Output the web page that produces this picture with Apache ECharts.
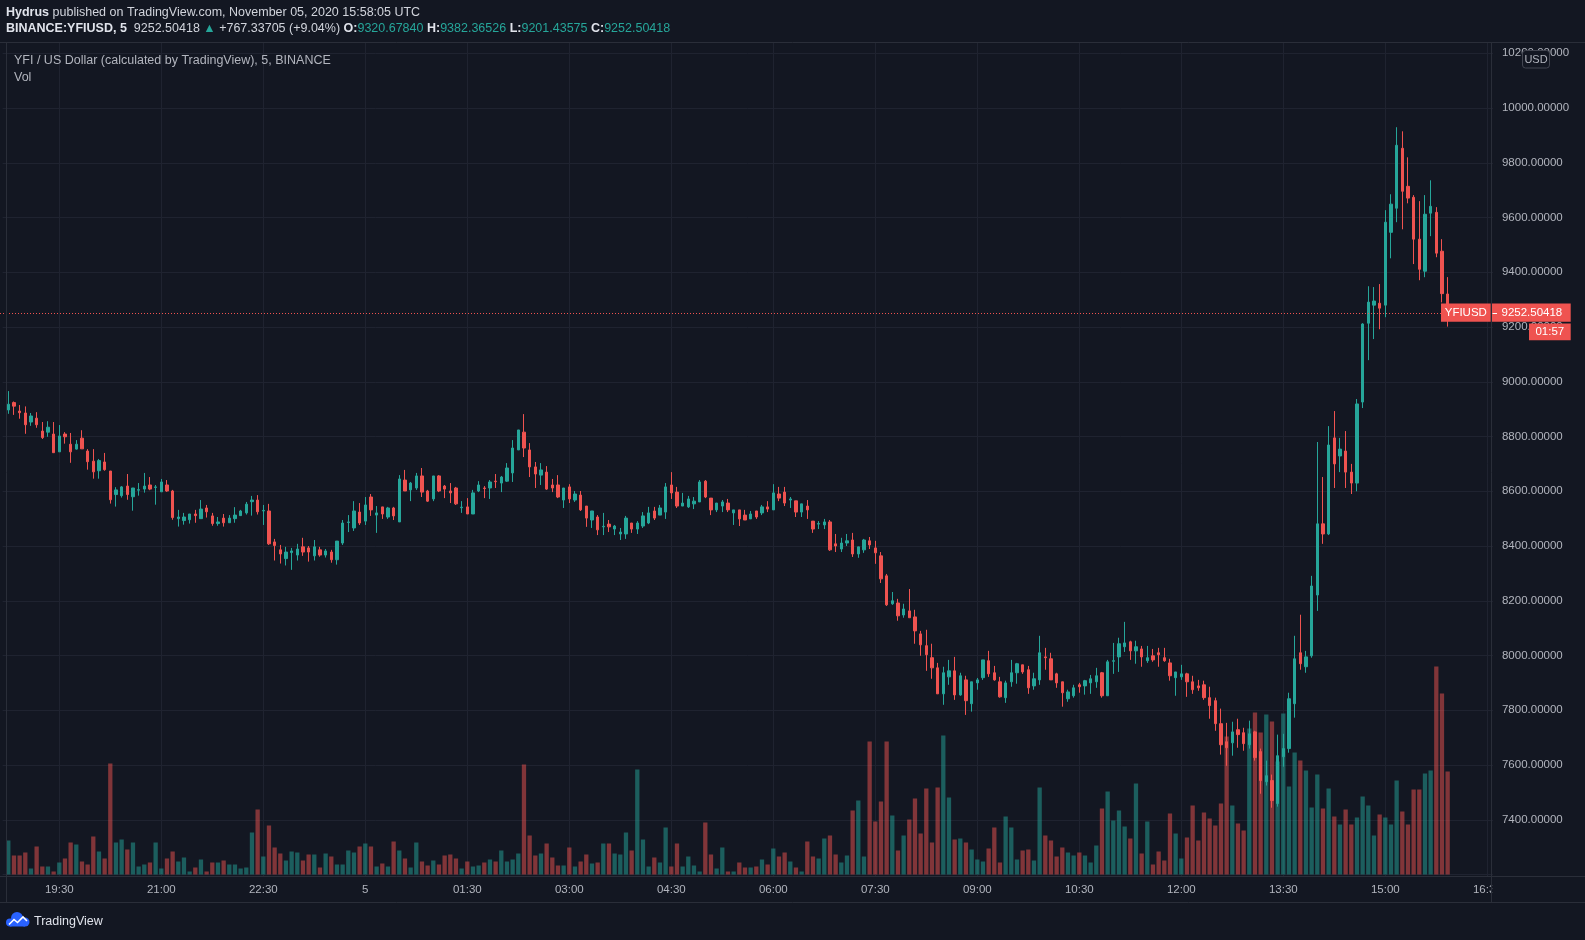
<!DOCTYPE html>
<html><head><meta charset="utf-8">
<script src="https://cdn.jsdelivr.net/npm/echarts@6/dist/echarts.min.js"></script>
<style>html,body{margin:0;padding:0;background:#131722;overflow:hidden}#c{width:1585px;height:940px;}</style>
</head><body><div id="c"></div>
<script>
// ---- data (5-minute candles, BINANCE:YFIUSD, Nov 4 18:45 -> Nov 5 15:55 UTC) ----
const openV = [8897,8924,8893,8886,8853,8867,8820,8816,8809,8744,
8809,8772,8754,8794,8747,8710,8675,8707,8674,8588,
8584,8619,8580,8604,8608,8623,8614,8598,8623,8601,
8500,8493,8496,8517,8500,8539,8510,8482,8502,8485,
8500,8511,8521,8562,8568,8528,8528,8415,8386,8354,
8376,8367,8397,8393,8364,8386,8367,8378,8350,8411,
8486,8466,8524,8491,8579,8513,8543,8506,8539,8488,
8641,8605,8612,8656,8601,8572,8656,8619,8601,8612,
8540,8543,8517,8601,8612,8612,8637,8630,8637,8667,
8751,8816,8751,8689,8659,8670,8623,8623,8568,8616,
8568,8586,8546,8495,8506,8470,8480,8462,8444,8444,
8484,8462,8473,8484,8528,8513,8524,8623,8597,8546,
8543,8554,8561,8637,8575,8532,8546,8557,8521,8532,
8513,8499,8528,8521,8543,8532,8590,8597,8568,8565,
8524,8546,8491,8480,8477,8488,8408,8389,8411,8422,
8371,8386,8419,8393,8364,8291,8189,8192,8148,8163,
8141,8079,8036,7992,7955,7860,7922,7944,7856,7911,
7824,7900,7919,7981,7937,7904,7846,7904,7937,7966,
7948,7889,7911,7995,7988,7933,7904,7842,7853,7893,
7889,7900,7904,7937,7853,7979,7995,8032,8050,8017,
8024,7981,7999,8010,7992,7973,7919,7922,7933,7904,
7889,7893,7846,7835,7751,7685,7681,7729,7718,7674,
7721,7649,7539,7543,7459,7630,7660,7824,8010,7959,
7999,8221,8481,8444,8795,8729,8747,8670,8630,8926,
9214,9280,9287,9280,9546,9634,9853,9714,9674,9521,
9404,9616,9619,9477,9320.67840];
const highV = [8966,8928,8915,8910,8886,8889,8853,8856,8853,8842,
8816,8813,8787,8823,8754,8754,8718,8740,8674,8615,
8619,8663,8612,8630,8667,8652,8623,8645,8641,8605,
8532,8521,8517,8532,8568,8550,8521,8506,8517,8513,
8542,8532,8561,8583,8586,8550,8554,8426,8404,8397,
8393,8408,8430,8400,8422,8397,8389,8386,8418,8495,
8513,8564,8557,8579,8590,8546,8543,8543,8543,8659,
8678,8634,8667,8685,8605,8656,8659,8623,8630,8616,
8564,8575,8605,8637,8619,8641,8663,8656,8703,8787,
8824,8882,8776,8707,8703,8692,8645,8659,8612,8626,
8601,8601,8546,8528,8513,8521,8495,8477,8466,8510,
8484,8491,8524,8543,8543,8550,8630,8670,8616,8594,
8583,8579,8641,8641,8575,8557,8568,8572,8532,8532,
8532,8528,8528,8550,8564,8626,8616,8616,8579,8565,
8554,8568,8491,8491,8499,8495,8444,8430,8444,8448,
8397,8426,8433,8419,8378,8298,8232,8207,8189,8243,
8167,8090,8094,8043,7973,7959,7984,7995,7937,7926,
7904,7918,7984,8017,7962,7922,7908,7984,7973,7966,
7962,7937,8072,8028,8010,7937,7904,7875,7893,7900,
7911,7929,7955,7940,7984,8046,8065,8123,8054,8054,
8035,8035,8024,8028,8028,7988,7940,7966,7937,7926,
7911,7908,7886,7846,7806,7754,7758,7769,7736,7762,
7725,7660,7616,7565,7711,7714,7864,8072,8149,8017,
8291,8780,8652,8838,8893,8795,8820,8700,8937,9214,
9349,9346,9357,9627,9685,9930,9915,9820,9682,9660,
9682,9736,9638,9521,9382.36526];
const lowV = [8883,8879,8865,8810,8839,8832,8791,8799,8741,8744,
8774,8704,8752,8755,8679,8646,8646,8675,8555,8544,
8577,8569,8529,8584,8595,8604,8551,8598,8598,8496,
8471,8478,8482,8485,8500,8504,8474,8474,8471,8485,
8485,8511,8515,8511,8515,8477,8404,8347,8336,8329,
8313,8347,8364,8343,8347,8361,8358,8339,8332,8404,
8451,8455,8477,8477,8510,8448,8499,8499,8495,8488,
8601,8564,8605,8579,8561,8564,8597,8575,8557,8550,
8521,8517,8517,8597,8575,8572,8612,8597,8634,8634,
8751,8725,8652,8612,8623,8605,8597,8575,8539,8557,
8561,8528,8470,8466,8440,8440,8451,8440,8422,8426,
8448,8444,8466,8480,8495,8513,8499,8572,8539,8546,
8539,8535,8561,8575,8513,8524,8524,8524,8477,8473,
8495,8499,8499,8513,8524,8532,8564,8546,8539,8506,
8506,8499,8448,8462,8462,8382,8378,8378,8400,8360,
8357,8375,8389,8335,8265,8181,8185,8127,8138,8138,
8043,7999,7944,7915,7860,7820,7893,7838,7853,7783,
7795,7875,7911,7922,7908,7846,7827,7886,7897,7933,
7860,7875,7893,7948,7911,7882,7813,7831,7846,7864,
7857,7860,7882,7846,7853,7933,7940,8013,7984,7970,
7959,7973,7977,7959,7977,7908,7853,7911,7849,7860,
7871,7838,7769,7725,7638,7597,7634,7663,7652,7660,
7616,7495,7525,7444,7448,7594,7645,7773,7948,7937,
7992,8163,8408,8440,8612,8670,8612,8590,8600,8904,
9079,9156,9192,9236,9451,9583,9557,9652,9430,9371,
9382,9532,9455,9290,9201.43575];
const closeV = [8918,8911,8887,8843,8875,8843,8796,8834,8741,8802,
8799,8744,8772,8755,8708,8671,8712,8679,8569,8605,
8616,8588,8612,8606,8619,8608,8616,8634,8601,8504,
8506,8506,8517,8511,8535,8525,8482,8488,8485,8502,
8513,8528,8553,8568,8525,8530,8408,8402,8371,8378,
8382,8389,8378,8378,8397,8367,8382,8350,8418,8484,
8488,8528,8484,8550,8532,8521,8517,8539,8510,8645,
8601,8630,8656,8597,8564,8656,8601,8608,8594,8554,
8542,8517,8594,8623,8610,8634,8635,8652,8685,8758,
8824,8758,8689,8663,8678,8608,8612,8579,8612,8572,
8590,8532,8502,8528,8459,8472,8470,8473,8451,8502,
8462,8484,8510,8521,8502,8539,8616,8594,8546,8557,
8572,8564,8634,8579,8532,8557,8561,8532,8532,8499,
8495,8517,8506,8543,8535,8594,8575,8557,8572,8524,
8554,8532,8462,8482,8488,8386,8400,8411,8419,8371,
8397,8422,8404,8375,8280,8185,8200,8145,8170,8138,
8090,8039,8003,7955,7860,7937,7944,7856,7926,7835,
7904,7911,7984,7933,7911,7849,7900,7937,7970,7940,
7882,7915,8010,7992,7911,7900,7864,7867,7882,7886,
7908,7915,7926,7853,7977,7981,8043,8046,8017,8032,
7995,7992,7984,8003,7981,7926,7940,7933,7904,7875,
7882,7846,7817,7751,7674,7663,7721,7711,7678,7714,
7627,7543,7561,7470,7634,7660,7842,7988,7970,7995,
8254,8481,8444,8769,8700,8754,8670,8630,8919,9211,
9291,9295,9269,9583,9649,9864,9696,9671,9521,9411,
9612,9641,9470,9322,9252.50418];
const volumeV = [34,19,19,22,6,28,8,8,3,12,
16,32,30,13,10,38,23,16,111,32,
35,25,32,8,10,12,32,6,16,23,
13,17,3,7,15,3,12,12,14,10,
10,6,7,42,65,18,49,27,21,14,
23,22,14,20,20,7,21,18,10,10,
24,22,28,31,28,8,11,8,33,24,
16,7,32,13,9,14,10,19,20,16,
6,13,8,9,12,15,13,24,13,15,
21,110,39,19,21,31,17,9,9,27,
8,13,20,11,12,31,31,21,20,42,
24,105,35,8,17,12,47,8,31,8,
18,9,3,52,20,6,27,3,3,12,
7,7,8,15,10,26,18,22,13,7,
3,33,18,16,36,39,20,12,19,64,
74,18,133,53,73,133,59,24,39,55,
76,41,86,32,87,139,77,35,36,32,
25,15,13,26,47,12,58,47,15,24,
25,14,87,39,34,18,27,22,19,22,
19,12,29,66,83,54,64,48,36,91,
21,53,10,23,14,61,41,16,37,69,
34,62,56,49,71,138,69,51,44,146,
162,142,160,153,113,161,88,122,114,104,
67,100,66,86,58,50,65,50,57,78,
69,39,60,57,50,94,63,50,85,85,
101,104,208,181,103];
const priceTicks = [7400,7600,7800,8000,8200,8400,8600,8800,9000,9200,9400,9600,9800,10000,10200];
const timeTickLabels = ['19:30','21:00','22:30','00:00','01:30','03:00','04:30','06:00','07:30','09:00','10:30','12:00','13:30','15:00','16:30'];
const lastPrice = 9252.50418;
const countdown = '01:57';

// category axis: one empty slot before first candle (18:40), then 5-min steps to 16:35
const cats = [];
{ let t = 18*60 + 40; for (let k = 0; k < 264; k++) { const m = ((t % 1440) + 1440) % 1440; cats.push(String(Math.floor(m/60)).padStart(2,'0') + ':' + String(m%60).padStart(2,'0')); t += 5; } }
const firstSlot = 1;

const UP = '#26a69a', DOWN = '#ef5350';
const UPV = 'rgba(38,166,154,0.5)', DOWNV = 'rgba(239,83,80,0.5)';
const GRID = '#1f2330', BORDER = '#2a2e39', TXT = '#b2b5be';
const FONT = 'Liberation Sans, Arial, sans-serif';

const candleData = cats.map((c, k) => {
  const i = k - firstSlot;
  if (i < 0 || i >= openV.length) return '-';
  return [openV[i], closeV[i], lowV[i], highV[i]];
});
const volData = cats.map((c, k) => {
  const i = k - firstSlot;
  if (i < 0 || i >= volumeV.length) return '-';
  return { value: volumeV[i], itemStyle: { color: closeV[i] >= openV[i] ? UPV : DOWNV } };
});
const isTick = (idx) => timeTickLabels.indexOf(cats[idx]) >= 0;
const labelFmt = (v) => v === '00:00' ? '5' : v;

const gridPos = { left: 2.633, right: 92.03, top: 53.3, bottom: 65.5 };
const chart = echarts.init(document.getElementById('c'));
chart.setOption({
  backgroundColor: '#131722',
  animation: false,
  textStyle: { fontFamily: FONT },
  grid: [Object.assign({}, gridPos), Object.assign({}, gridPos)],
  xAxis: [
    { type: 'category', data: cats, boundaryGap: false, gridIndex: 0,
      axisLine: { show: false }, axisTick: { show: false },
      axisLabel: { interval: (idx) => isTick(idx), formatter: labelFmt, color: TXT, fontSize: 11.5, fontFamily: FONT, margin: 9 },
      splitLine: { show: true, interval: (idx) => isTick(idx), lineStyle: { color: GRID, width: 1 } } },
    { type: 'category', data: cats, boundaryGap: false, gridIndex: 1, show: false }
  ],
  yAxis: [
    { type: 'value', position: 'right', gridIndex: 0, min: 7200, max: 10200, interval: 200,
      axisLine: { show: false }, axisTick: { show: false }, showMaxLabel: true,
      axisLabel: { color: TXT, fontSize: 11.5, fontFamily: FONT, margin: 9,
        formatter: (v) => priceTicks.indexOf(v) >= 0 ? v.toFixed(5) : '' },
      splitLine: { show: true, lineStyle: { color: GRID, width: 1 } } },
    { type: 'value', gridIndex: 1, min: 0, max: 821.2, show: false, splitLine: { show: false } }
  ],
  series: [
    { type: 'bar', name: 'Vol', xAxisIndex: 1, yAxisIndex: 1, data: volData, barWidth: 4.3, z: 1, silent: true },
    { type: 'candlestick', name: 'YFIUSD', xAxisIndex: 0, yAxisIndex: 0, data: candleData, barWidth: 2.6, z: 3, silent: true,
      itemStyle: { color: UP, color0: DOWN, borderColor: UP, borderColor0: DOWN, borderWidth: 1 } }
  ]
});

// overlay graphics (positions from the library's scales)
const py = chart.convertToPixel({ yAxisIndex: 0 }, lastPrice);
const pyLine = Math.round(py) + 0.5;
const yTop = chart.convertToPixel({ yAxisIndex: 0 }, 10200);
const yBot = chart.convertToPixel({ yAxisIndex: 0 }, 7200);
const g = [];
// extend vertical grid lines to pane edges
cats.forEach((c, idx) => {
  if (!isTick(idx)) return;
  const x = Math.round(chart.convertToPixel({ xAxisIndex: 0 }, idx)) + 0.5;
  g.push({ type: 'line', silent: true, z: 0, shape: { x1: x, y1: 42.7, x2: x, y2: yTop }, style: { stroke: GRID, lineWidth: 1 } });
  g.push({ type: 'line', silent: true, z: 0, shape: { x1: x, y1: yBot, x2: x, y2: 876 }, style: { stroke: GRID, lineWidth: 1 } });
});
// dotted last-price line
g.push({ type: 'line', silent: true, z: 40, shape: { x1: 0, y1: pyLine, x2: 1441, y2: pyLine }, style: { stroke: DOWN, lineWidth: 1, lineDash: [1, 2] } });
// mask the time axis beyond price-axis border (clips 16:30)
g.push({ type: 'rect', silent: true, z: 50, shape: { x: 1492.2, y: 877, width: 100, height: 25 }, style: { fill: '#131722' } });
// borders
g.push({ type: 'line', silent: true, z: 51, shape: { x1: 0, y1: 42.5, x2: 1585, y2: 42.5 }, style: { stroke: BORDER, lineWidth: 1 } });
g.push({ type: 'line', silent: true, z: 51, shape: { x1: 6.5, y1: 42.5, x2: 6.5, y2: 903 }, style: { stroke: BORDER, lineWidth: 1 } });
g.push({ type: 'line', silent: true, z: 51, shape: { x1: 1491.5, y1: 42.5, x2: 1491.5, y2: 903 }, style: { stroke: BORDER, lineWidth: 1 } });
g.push({ type: 'line', silent: true, z: 51, shape: { x1: 0, y1: 876.5, x2: 1585, y2: 876.5 }, style: { stroke: BORDER, lineWidth: 1 } });
g.push({ type: 'line', silent: true, z: 51, shape: { x1: 0, y1: 902.5, x2: 1585, y2: 902.5 }, style: { stroke: BORDER, lineWidth: 1 } });
// last price labels
g.push({ type: 'rect', silent: true, z: 60, shape: { x: 1441, y: py - 9.2, width: 49.7, height: 18.4 }, style: { fill: DOWN } });
g.push({ type: 'text', silent: true, z: 61, x: 1465.8, y: py, style: { text: 'YFIUSD', fill: '#ffffff', font: '11.5px ' + FONT, align: 'center', verticalAlign: 'middle' } });
g.push({ type: 'rect', silent: true, z: 60, shape: { x: 1492, y: py - 9.2, width: 78.7, height: 18.4 }, style: { fill: DOWN } });
g.push({ type: 'line', silent: true, z: 61, shape: { x1: 1492.5, y1: pyLine, x2: 1497, y2: pyLine }, style: { stroke: '#ffffff', lineWidth: 1 } });
g.push({ type: 'text', silent: true, z: 61, x: 1501.5, y: py, style: { text: lastPrice.toFixed(5), fill: '#ffffff', font: '11.5px ' + FONT, align: 'left', verticalAlign: 'middle' } });
g.push({ type: 'rect', silent: true, z: 60, shape: { x: 1529, y: py + 10.8, width: 41.7, height: 16.7 }, style: { fill: DOWN } });
g.push({ type: 'text', silent: true, z: 61, x: 1549.8, y: py + 19.2, style: { text: countdown, fill: '#ffffff', font: '11.5px ' + FONT, align: 'center', verticalAlign: 'middle' } });
// USD badge
g.push({ type: 'rect', silent: true, z: 60, shape: { x: 1522.5, y: 50.5, width: 27, height: 17.5, r: 3 }, style: { fill: '#131722', stroke: '#434651', lineWidth: 1 } });
g.push({ type: 'text', silent: true, z: 61, x: 1536, y: 59.5, style: { text: 'USD', fill: TXT, font: '11px ' + FONT, align: 'center', verticalAlign: 'middle' } });
// header
g.push({ type: 'text', silent: true, z: 70, x: 6, y: 12.5, style: {
  text: '{b|Hydrus} published on TradingView.com, November 05, 2020 15:58:05 UTC',
  fill: '#d1d4dc', font: '12.5px ' + FONT, verticalAlign: 'middle',
  rich: { b: { fontWeight: 'bold', fill: '#e0e3eb', fontFamily: FONT, fontSize: 12.5 } } } });
g.push({ type: 'text', silent: true, z: 70, x: 6, y: 28.8, style: {
  text: '{b|BINANCE:YFIUSD, 5}  9252.50418 {g|▲} +767.33705 (+9.04%) {b|O:}{g|9320.67840} {b|H:}{g|9382.36526} {b|L:}{g|9201.43575} {b|C:}{g|9252.50418}',
  fill: '#d1d4dc', font: '12.5px ' + FONT, verticalAlign: 'middle',
  rich: { b: { fontWeight: 'bold', fill: '#e0e3eb', fontFamily: FONT, fontSize: 12.5 },
          g: { fill: UP, fontFamily: FONT, fontSize: 12.5 } } } });
// pane legend
g.push({ type: 'text', silent: true, z: 70, x: 14, y: 61, style: { text: 'YFI / US Dollar (calculated by TradingView), 5, BINANCE', fill: TXT, font: '12.5px ' + FONT, verticalAlign: 'middle' } });
g.push({ type: 'text', silent: true, z: 70, x: 14, y: 77.5, style: { text: 'Vol', fill: TXT, font: '12.5px ' + FONT, verticalAlign: 'middle' } });
// footer logo (cloud)
g.push({ type: 'circle', silent: true, z: 70, shape: { cx: 17, cy: 918, r: 6 }, style: { fill: '#2962ff' } });
g.push({ type: 'circle', silent: true, z: 70, shape: { cx: 10, cy: 922.5, r: 4 }, style: { fill: '#2962ff' } });
g.push({ type: 'circle', silent: true, z: 70, shape: { cx: 25, cy: 922, r: 4.5 }, style: { fill: '#2962ff' } });
g.push({ type: 'rect', silent: true, z: 70, shape: { x: 10, y: 920, width: 15, height: 6.5 }, style: { fill: '#2962ff' } });
g.push({ type: 'polyline', silent: true, z: 71, shape: { points: [[9, 924.5], [14, 919.5], [17.5, 922.5], [23, 917], [27, 921]] }, style: { stroke: '#ffffff', lineWidth: 1.6, fill: null } });
g.push({ type: 'text', silent: true, z: 70, x: 34, y: 921.5, style: { text: 'TradingView', fill: '#e0e3eb', font: '12.5px ' + FONT, verticalAlign: 'middle' } });
chart.setOption({ graphic: g });
</script>
</body></html>
